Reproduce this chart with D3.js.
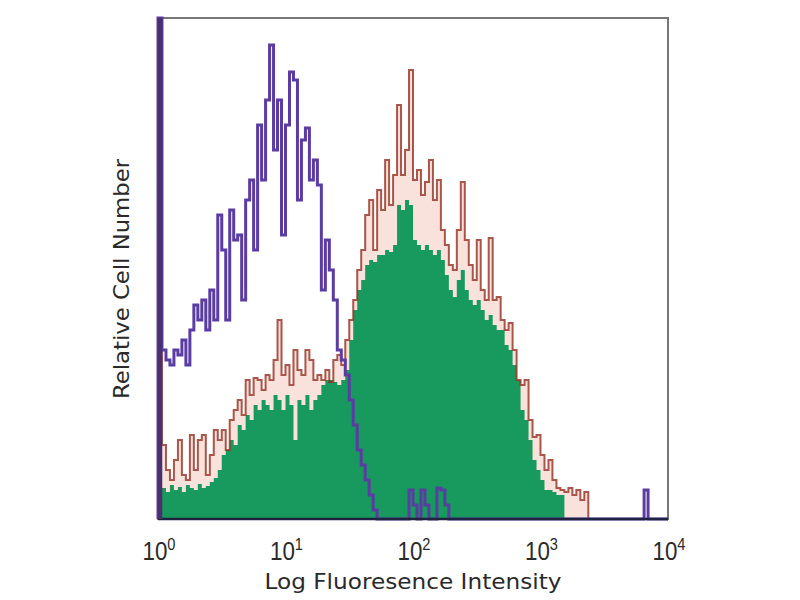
<!DOCTYPE html>
<html>
<head>
<meta charset="utf-8">
<script src="https://cdn.jsdelivr.net/npm/d3@7/dist/d3.min.js"></script>
<style>
html,body{margin:0;padding:0;background:#fff;}
svg{display:block;}
</style>
</head>
<body>
<svg id="chart" width="800" height="600"></svg>
<script>
// Histogram bins: 32 bins per decade, from 10^0 to 10^4 (128 bins)
const binsPerDecade = 32;
const decades = [0, 1, 2, 3, 4];
const tickBase = "10";
const xTitle = "Log Fluoresence Intensity";
const yTitle = "Relative Cell Number";

// Isotype control (purple outline)
const isotype = [
  501,169,159,154,169,164,179,154,189,214,199,219,189,229,199,304,
  269,199,309,279,284,219,319,339,269,394,339,419,474,369,419,284,
  394,447,439,319,379,391,339,359,334,229,279,249,219,169,159,144,
  119,94,69,54,39,24,9,0,0,0,0,0,0,0,0,29,
  14,0,29,14,0,0,31,29,14,0,0,0,0,0,0,0,
  0,0,0,0,0,0,0,0,0,0,0,0,0,0,0,0,
  0,0,0,0,0,0,0,0,0,0,0,0,0,0,0,0,
  0,0,0,0,0,0,0,0,0,0,29,0,0,0,0,0
];
// Stained sample (red outline)
const stainedRed = [
  379,74,49,39,59,79,44,39,84,49,79,84,44,64,89,79,
  89,69,99,109,119,104,139,124,141,139,129,144,139,159,199,144,
  154,134,169,149,144,169,159,139,144,139,149,137,159,164,154,179,
  199,219,249,269,304,319,269,329,309,359,314,344,414,344,369,449,
  339,349,324,337,359,319,339,289,274,254,249,289,337,279,254,239,
  279,229,219,281,219,222,199,189,196,169,139,134,139,99,82,84,
  64,49,59,39,31,29,27,31,24,29,19,27,0,0,0,0,
  0,0,0,0,0,0,0,0,0,0,0,0,0,0,0,0
];
// Stained sample (green filled)
const stainedGreen = [
  29,31,27,34,29,32,27,34,31,29,35,31,33,37,41,49,
  64,69,79,74,94,89,104,99,114,109,119,114,109,124,119,109,
  124,114,79,119,114,124,109,119,124,134,139,139,137,134,139,149,
  179,209,229,239,254,259,257,264,264,269,267,274,314,309,319,314,
  279,274,269,274,269,264,269,259,244,229,222,239,249,229,219,214,
  219,209,199,204,194,189,189,174,169,154,139,109,99,79,59,49,
  39,29,29,27,24,24,0,0,0,0,0,0,0,0,0,0,
  0,0,0,0,0,0,0,0,0,0,0,0,0,0,0,0
];

const svg = d3.select("#chart");
const L = 158, R = 668, T = 18, B = 519;
const x = d3.scaleLog().domain([1, 1e4]).range([L, R]);
const y = d3.scaleLinear().domain([0, 501]).range([B, T]);

function pts(arr) {
  const p = arr.map((v, i) => [Math.pow(10, i / binsPerDecade), v]);
  p.push([1e4, arr[arr.length - 1]]);
  return p;
}
const area = d3.area().x(d => x(d[0])).y0(y(0)).y1(d => y(d[1])).curve(d3.curveStepAfter);
const line = d3.line().x(d => x(d[0])).y(d => y(d[1])).curve(d3.curveStepAfter);
function linePts(arr) {
  const p = [[1, 0]].concat(arr.map((v, i) => [Math.pow(10, i / binsPerDecade), v]));
  p.push([1e4, 0]);
  return p;
}

// frame (top/right)
svg.append("rect").attr("x", L).attr("y", T).attr("width", R - L).attr("height", B - T)
  .attr("fill", "#fff").attr("stroke", "#777").attr("stroke-width", 2);

const g = svg.append("g");
g.append("path").attr("d", area(pts(stainedRed))).attr("fill", "#f3cfc3").attr("fill-opacity", 0.6);
g.append("path").attr("d", area(pts(stainedGreen))).attr("fill", "#18995d");
g.append("path").attr("d", line(linePts(stainedRed))).attr("fill", "none")
  .attr("stroke", "#962e22").attr("stroke-width", 2).attr("stroke-opacity", 0.8);
g.append("path").attr("d", line(linePts(isotype))).attr("fill", "none")
  .attr("stroke", "#5a3ca2").attr("stroke-width", 3);

// bottom axis line and left edge
svg.append("line").attr("x1", L).attr("x2", R).attr("y1", B).attr("y2", B)
  .attr("stroke", "#1d2340").attr("stroke-width", 2.5);
svg.append("line").attr("x1", L + 2).attr("x2", L + 2).attr("y1", T).attr("y2", B)
  .attr("stroke", "#4a2f6e").attr("stroke-width", 4.5);

// tick labels
const tl = svg.append("g").attr("font-family", "Liberation Sans, Arial, sans-serif").attr("fill", "#2a2a2a");
decades.forEach(d => {
  const t = tl.append("g").attr("transform", `translate(${x(Math.pow(10, d)) + 1},560) scale(0.86,1)`)
    .append("text").attr("text-anchor", "middle").attr("font-size", 26);
  t.append("tspan").text(tickBase);
  t.append("tspan").attr("font-size", 17).attr("dy", -10).text(d);
});

// axis titles
svg.append("text").attr("x", (L + R) / 2).attr("y", 589).attr("text-anchor", "middle")
  .attr("font-family", "DejaVu Sans, sans-serif").attr("font-size", 22).attr("fill", "#2a2a2a")
  .attr("textLength", 297).attr("lengthAdjust", "spacingAndGlyphs").text(xTitle);
svg.append("text").attr("transform", "translate(129,279) rotate(-90)").attr("text-anchor", "middle")
  .attr("font-family", "DejaVu Sans, sans-serif").attr("font-size", 21).attr("fill", "#2a2a2a")
  .attr("textLength", 240).attr("lengthAdjust", "spacingAndGlyphs").text(yTitle);
</script>
</body>
</html>
